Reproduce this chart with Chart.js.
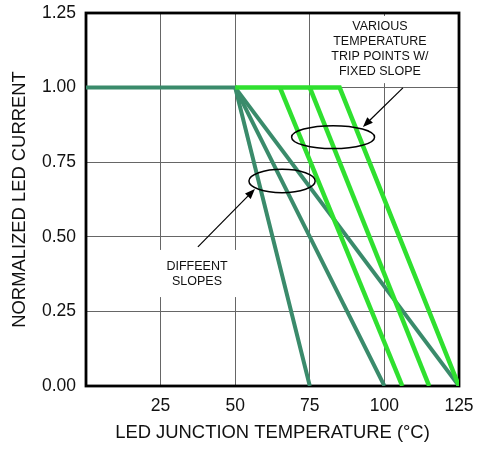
<!DOCTYPE html>
<html>
<head>
<meta charset="utf-8">
<script src="https://cdn.jsdelivr.net/npm/chart.js@4.4.1/dist/chart.umd.min.js"></script>
<style>
  html, body { margin: 0; padding: 0; background: #fff; }
  #wrap { width: 488px; height: 451px; position: relative; }
</style>
</head>
<body>
<div id="wrap"><canvas id="c"></canvas></div>
<script>
// ---- data ----
const xTicks = [0, 25, 50, 75, 100, 125];
const yTicks = [0, 0.25, 0.5, 0.75, 1.0, 1.25];
const fullCurrent = 1.0;
const foldbackStart = 50;                 // °C where dark curves start to fall
const darkZeroTemps = [75, 100, 125];     // different slopes
const tripPoints = [65, 75, 85];          // various trip points
const tripZeroTemps = [106, 115, 125];    // fixed slope
const xTitle = 'LED JUNCTION TEMPERATURE (°C)';
const yTitle = 'NORMALIZED LED CURRENT';
const noteTrip = ['VARIOUS', 'TEMPERATURE', 'TRIP POINTS W/', 'FIXED SLOPE'];
const noteSlopes = ['DIFFEENT', 'SLOPES'];

const DARK = '#3a8b6b';
const BRIGHT = '#2fe02f';
const FONT = 'Arial, "Liberation Sans", Helvetica, sans-serif';

const datasets = [];
darkZeroTemps.forEach((z, i) => {
  const pts = [];
  if (i === 0) pts.push({x: xTicks[0], y: fullCurrent});
  pts.push({x: foldbackStart, y: fullCurrent});
  pts.push({x: z, y: 0});
  datasets.push({data: pts, borderColor: DARK, borderWidth: 4, pointRadius: 0, order: 2});
});
tripPoints.forEach((t, i) => {
  const pts = [];
  if (i === tripPoints.length - 1) pts.push({x: foldbackStart, y: fullCurrent});
  pts.push({x: t, y: fullCurrent});
  pts.push({x: tripZeroTemps[i], y: 0});
  datasets.push({data: pts, borderColor: BRIGHT, borderWidth: 4.5, pointRadius: 0, order: 1});
});

// annotation placement (data units)
const tripText = {x: 98.5, y: 1.203};
const slopeText = {x: 37.2, y: 0.399};
const tripBox = {x0: 79, x1: 118, y0: 1.015, y1: 1.24};
const slopeBox = {x0: 21.4, x1: 52.6, y0: 0.298, y1: 0.456};
const ellipses = [
  {x: 82.8, y: 0.834, rx: 13.9, ry: 0.0385},
  {x: 65.7, y: 0.687, rx: 11.1, ry: 0.039}
];
const arrows = [
  {x0: 106.2, y0: 0.999, x1: 92.8, y1: 0.868},
  {x0: 37.5, y0: 0.466, x1: 56.6, y1: 0.660}
];

const annot = {
  id: 'annot',
  beforeDatasetsDraw(chart) {
    const {ctx, chartArea: a, scales: {x, y}} = chart;
    ctx.save();
    ctx.fillStyle = '#fff';
    [tripBox, slopeBox].forEach(b => {
      const px0 = x.getPixelForValue(b.x0), px1 = x.getPixelForValue(b.x1);
      const py0 = y.getPixelForValue(b.y1), py1 = y.getPixelForValue(b.y0);
      ctx.fillRect(px0, py0, px1 - px0, py1 - py0);
    });
    ctx.strokeStyle = '#000';
    ctx.lineWidth = 2.8;
    ctx.strokeRect(a.left, a.top, a.right - a.left, a.bottom - a.top);
    ctx.fillStyle = '#111';
    ctx.font = '12.5px ' + FONT;
    ctx.textAlign = 'center';
    ctx.textBaseline = 'middle';
    noteTrip.forEach((t, i) => ctx.fillText(t, x.getPixelForValue(tripText.x), y.getPixelForValue(tripText.y) + i * 15));
    noteSlopes.forEach((t, i) => ctx.fillText(t, x.getPixelForValue(slopeText.x), y.getPixelForValue(slopeText.y) + i * 14.5));
    ctx.restore();
  },
  afterDatasetsDraw(chart) {
    const {ctx, scales: {x, y}} = chart;
    ctx.save();
    ctx.strokeStyle = '#000';
    ctx.fillStyle = '#000';
    ctx.lineWidth = 1.5;
    ellipses.forEach(e => {
      const cx = x.getPixelForValue(e.x), cy = y.getPixelForValue(e.y);
      const rx = x.getPixelForValue(e.x + e.rx) - cx;
      const ry = cy - y.getPixelForValue(e.y + e.ry);
      ctx.beginPath();
      ctx.ellipse(cx, cy, rx, ry, 0, 0, Math.PI * 2);
      ctx.stroke();
    });
    ctx.lineWidth = 1.2;
    arrows.forEach(r => {
      const x0 = x.getPixelForValue(r.x0), y0 = y.getPixelForValue(r.y0);
      const x1 = x.getPixelForValue(r.x1), y1 = y.getPixelForValue(r.y1);
      const ang = Math.atan2(y1 - y0, x1 - x0);
      const L = 10, W = 4;
      const bx = x1 - L * Math.cos(ang), by = y1 - L * Math.sin(ang);
      ctx.beginPath();
      ctx.moveTo(x0, y0);
      ctx.lineTo(bx, by);
      ctx.stroke();
      ctx.beginPath();
      ctx.moveTo(x1, y1);
      ctx.lineTo(bx + W * Math.sin(ang), by - W * Math.cos(ang));
      ctx.lineTo(bx - W * Math.sin(ang), by + W * Math.cos(ang));
      ctx.closePath();
      ctx.fill();
    });
    ctx.restore();
  }
};

new Chart(document.getElementById('c'), {
  type: 'line',
  data: {datasets},
  plugins: [annot],
  options: {
    responsive: true,
    maintainAspectRatio: false,
    animation: false,
    layout: {padding: {top: 13, right: 29, left: 0, bottom: 0}},
    plugins: {legend: {display: false}, tooltip: {enabled: false}},
    elements: {line: {tension: 0, borderCapStyle: 'butt', borderJoinStyle: 'miter'}},
    scales: {
      x: {
        type: 'linear',
        min: xTicks[0], max: xTicks[xTicks.length - 1],
        afterFit: s => { s.height = 65; s.paddingLeft = 0; s.paddingRight = 0; },
        afterBuildTicks: s => { s.ticks = xTicks.map(v => ({value: v})); },
        ticks: {
          padding: 10, color: '#111', font: {family: FONT, size: 17.5},
          maxRotation: 0, autoSkip: false,
          callback: v => (v === 0 ? '' : String(v))
        },
        grid: {
          drawTicks: false, lineWidth: 1,
          color: c => (c.tick && (c.tick.value === xTicks[0] || c.tick.value === xTicks[xTicks.length - 1])) ? 'rgba(0,0,0,0)' : '#666'
        },
        border: {display: false},
        title: {display: true, text: xTitle, color: '#111', font: {family: FONT, size: 18.4}, padding: {top: 0, bottom: 7}}
      },
      y: {
        type: 'linear',
        min: yTicks[0], max: yTicks[yTicks.length - 1],
        afterFit: s => { s.width = 86; s.paddingTop = 0; s.paddingBottom = 0; },
        afterBuildTicks: s => { s.ticks = yTicks.map(v => ({value: v})); },
        ticks: {
          padding: 10, color: '#111', font: {family: FONT, size: 17.5},
          callback: v => Number(v).toFixed(2)
        },
        grid: {
          drawTicks: false, lineWidth: 1,
          color: c => (c.tick && (c.tick.value === yTicks[0] || c.tick.value === yTicks[yTicks.length - 1])) ? 'rgba(0,0,0,0)' : '#666'
        },
        border: {display: false},
        title: {display: true, text: yTitle, color: '#111', font: {family: FONT, size: 18.4}, padding: {top: 9, bottom: 0}}
      }
    }
  }
});
</script>
</body>
</html>
